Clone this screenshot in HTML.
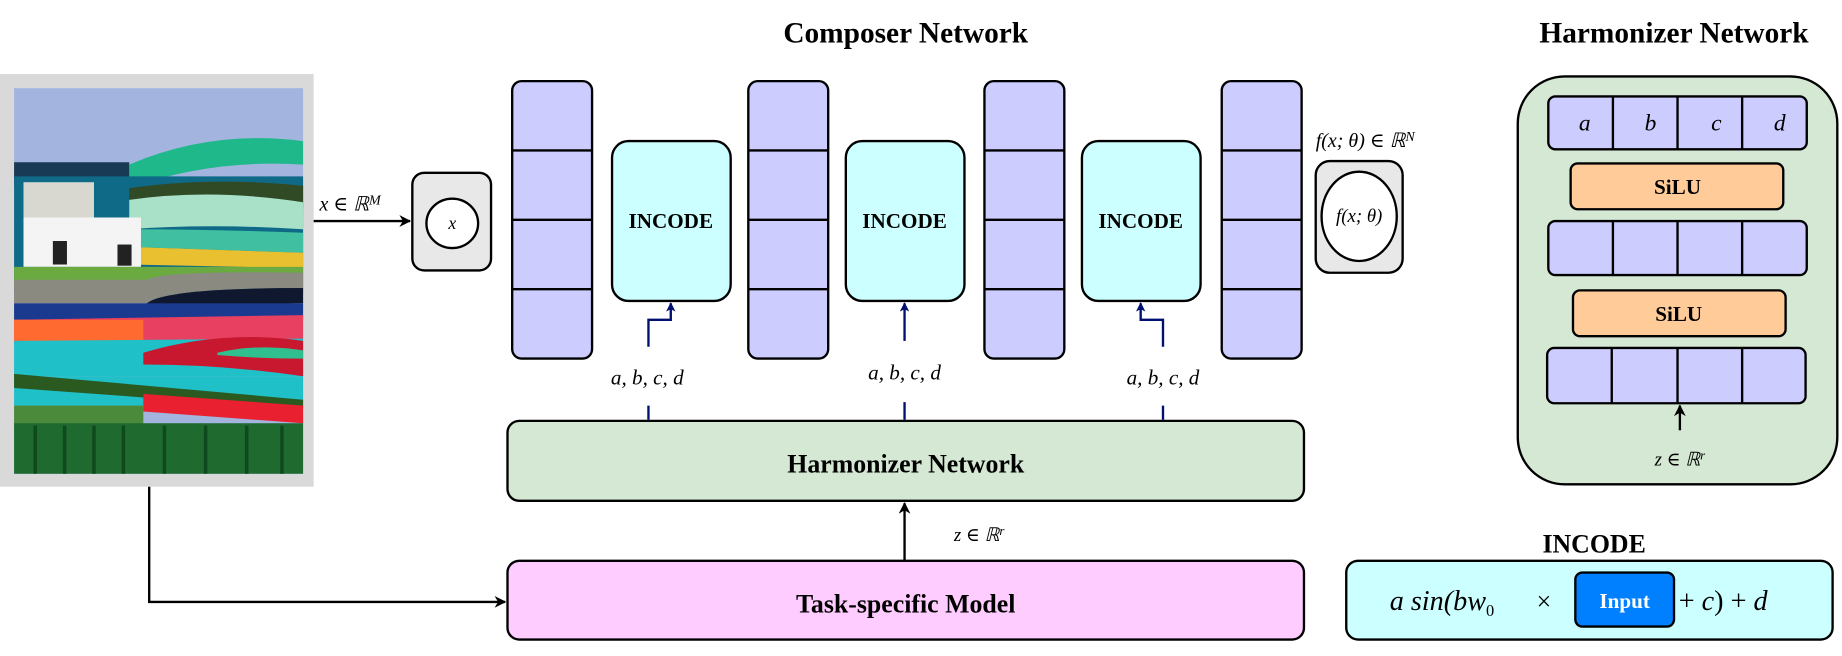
<!DOCTYPE html>
<html><head><meta charset="utf-8"><style>
html,body{margin:0;padding:0;background:#fff;}
svg{display:block;}
text{font-family:"Liberation Serif","DejaVu Serif",serif;}
.b{font-weight:bold;}
.m{font-style:italic;}
</style></head><body>
<svg width="1842" height="656" viewBox="0 0 1568 558" preserveAspectRatio="none" xmlns="http://www.w3.org/2000/svg">
<defs>
<marker id="ah" markerWidth="10" markerHeight="10" refX="9" refY="5" orient="auto" markerUnits="userSpaceOnUse"><path d="M0,0 L10,5 L0,10 L3,5 z" fill="#000"/></marker>
<marker id="bh" markerWidth="8" markerHeight="8" refX="7" refY="4" orient="auto" markerUnits="userSpaceOnUse"><path d="M0,0 L8,4 L0,8 L2,4 z" fill="#001070"/></marker>
</defs>
<text x="771" y="36" text-anchor="middle" class="b" font-size="25">Composer Network</text>
<text x="1425" y="36" text-anchor="middle" class="b" font-size="25">Harmonizer Network</text>

<!-- painting -->
<rect x="0" y="63" width="267" height="351" fill="#d9d9d9"/>
<g>
<rect x="12" y="75" width="246" height="328" fill="#a3b5df"/>
<path d="M110 140 Q180 110 258 120 L258 140 Q180 135 110 160 z" fill="#1fb88a"/>
<rect x="12" y="138" width="98" height="20" fill="#183a55"/>
<path d="M12 150 L258 150 L258 250 L12 250 z" fill="#0f6a88"/>
<path d="M110 160 Q180 150 258 158 L258 178 Q180 175 110 185 z" fill="#2f4a25"/>
<path d="M110 170 Q180 160 258 172 L258 195 Q180 190 110 195 z" fill="#a8e0c8"/>
<path d="M110 195 Q180 195 258 198 L258 215 L110 210 z" fill="#40c0a0"/>
<path d="M110 210 L258 215 L258 228 L110 225 z" fill="#e8c030"/>
<rect x="20" y="155" width="60" height="35" fill="#d8d8d0"/>
<rect x="20" y="185" width="100" height="42" fill="#f4f4f4"/>
<rect x="45" y="205" width="12" height="20" fill="#222"/>
<rect x="100" y="208" width="12" height="18" fill="#222"/>
<rect x="12" y="227" width="246" height="18" fill="#6aaa40"/>
<path d="M12 238 L125 238 Q140 230 258 232 L258 245 Q140 245 125 258 L12 258 z" fill="#8a8a80"/>
<path d="M125 258 Q140 245 258 245 L258 258 L125 260 z" fill="#101830"/>
<rect x="12" y="258" width="246" height="14" fill="#1a3a90"/>
<path d="M12 272 L258 268 L258 290 L12 292 z" fill="#e84060"/>
<rect x="12" y="272" width="110" height="18" fill="#ff6a30"/>
<path d="M12 290 L258 288 L258 320 L12 320 z" fill="#20c0c8"/>
<path d="M122 300 Q190 280 258 290 L258 320 Q190 310 122 310 z" fill="#c81830"/>
<path d="M185 300 Q220 292 258 298 L258 305 Q220 305 185 302 z" fill="#30c090"/>
<path d="M12 320 L258 320 L258 345 L12 345 z" fill="#20c0c8"/>
<path d="M12 318 L258 340 L258 348 L12 330 z" fill="#2a5a20"/>
<path d="M122 335 L258 345 L258 360 L122 350 z" fill="#e82030"/>
<rect x="12" y="345" width="110" height="20" fill="#4a8a3a"/>
<rect x="12" y="360" width="246" height="43" fill="#1f6a2f"/>
<g stroke="#0f4a1f" stroke-width="3"><line x1="30" y1="362" x2="30" y2="403"/><line x1="55" y1="362" x2="55" y2="403"/><line x1="80" y1="362" x2="80" y2="403"/><line x1="105" y1="362" x2="105" y2="403"/><line x1="140" y1="362" x2="140" y2="403"/><line x1="175" y1="362" x2="175" y2="403"/><line x1="210" y1="362" x2="210" y2="403"/><line x1="240" y1="362" x2="240" y2="403"/></g>
</g>

<!-- input arrow -->
<line x1="267" y1="188" x2="349" y2="188" stroke="#000" stroke-width="2" marker-end="url(#ah)"/>
<text x="272" y="179" class="m" font-size="17">x ∈ ℝ<tspan font-size="12" baseline-shift="45%">M</tspan></text>
<rect x="351" y="147" width="67" height="83" rx="10" fill="#e8e8e8" stroke="#000" stroke-width="2"/>
<ellipse cx="385" cy="190" rx="22" ry="21" fill="#fff" stroke="#000" stroke-width="2"/>
<text x="385" y="195" text-anchor="middle" class="m" font-size="15">x</text>

<!-- columns -->
<g stroke="#000" stroke-width="2" fill="#ccccff">
<rect x="436" y="69" width="68" height="236" rx="8"/>
<rect x="637" y="69" width="68" height="236" rx="8"/>
<rect x="838" y="69" width="68" height="236" rx="8"/>
<rect x="1040" y="69" width="68" height="236" rx="8"/>
</g>
<g stroke="#000" stroke-width="2">
<path d="M436 128h68M436 187h68M436 246h68"/>
<path d="M637 128h68M637 187h68M637 246h68"/>
<path d="M838 128h68M838 187h68M838 246h68"/>
<path d="M1040 128h68M1040 187h68M1040 246h68"/>
</g>

<!-- INCODE boxes -->
<g stroke="#000" stroke-width="2" fill="#ccffff">
<rect x="521" y="120" width="101" height="136" rx="14"/>
<rect x="720" y="120" width="101" height="136" rx="14"/>
<rect x="921" y="120" width="101" height="136" rx="14"/>
</g>
<g font-size="18" text-anchor="middle">
<text x="571" y="194" class="b">INCODE</text>
<text x="770" y="194" class="b">INCODE</text>
<text x="971" y="194" class="b">INCODE</text>
</g>

<!-- blue connectors -->
<g stroke="#001070" stroke-width="2" fill="none">
<path d="M552 295 V272 H571 V258" marker-end="url(#bh)"/>
<path d="M770 290 V258" marker-end="url(#bh)"/>
<path d="M990 295 V272 H971 V258" marker-end="url(#bh)"/>
<path d="M552 345 V357 M770 342 V357 M990 345 V357"/>
</g>
<g class="m" font-size="18" text-anchor="middle">
<text x="551" y="327">a, b, c, d</text>
<text x="770" y="323">a, b, c, d</text>
<text x="990" y="327">a, b, c, d</text>
</g>

<!-- harmonizer bar -->
<rect x="432" y="358" width="678" height="68" rx="10" fill="#d5e8d4" stroke="#000" stroke-width="2"/>
<text x="771" y="402" text-anchor="middle" class="b" font-size="22">Harmonizer Network</text>
<line x1="770" y1="477" x2="770" y2="428" stroke="#000" stroke-width="2" marker-end="url(#ah)"/>
<text x="812" y="460" class="m" font-size="16">z ∈ ℝ<tspan font-size="11" baseline-shift="50%">r</tspan></text>

<!-- task model -->
<rect x="432" y="477" width="678" height="67" rx="10" fill="#ffccff" stroke="#000" stroke-width="2"/>
<text x="771" y="521" text-anchor="middle" class="b" font-size="22">Task-specific Model</text>
<path d="M127 414 V512 H430" stroke="#000" stroke-width="2" fill="none" marker-end="url(#ah)"/>

<!-- output -->
<text x="1120" y="125" class="m" font-size="17">f(x; θ) ∈ ℝ<tspan font-size="12" baseline-shift="45%">N</tspan></text>
<rect x="1120" y="137" width="74" height="95" rx="12" fill="#e8e8e8" stroke="#000" stroke-width="2"/>
<ellipse cx="1157" cy="184" rx="32" ry="38" fill="#fff" stroke="#000" stroke-width="2"/>
<text x="1157" y="189" text-anchor="middle" class="m" font-size="16">f(x; θ)</text>

<!-- right harmonizer -->
<rect x="1292" y="65" width="272" height="347" rx="40" fill="#d5e8d4" stroke="#000" stroke-width="2"/>
<g stroke="#000" stroke-width="2" fill="#ccccff">
<rect x="1318" y="82" width="220" height="45" rx="6"/>
<rect x="1318" y="188" width="220" height="46" rx="6"/>
<rect x="1317" y="296" width="220" height="47" rx="6"/>
</g>
<g stroke="#000" stroke-width="2">
<path d="M1373 82v45M1428 82v45M1483 82v45"/>
<path d="M1373 188v46M1428 188v46M1483 188v46"/>
<path d="M1372 296v47M1428 296v47M1483 296v47"/>
</g>
<g class="m" font-size="20" text-anchor="middle">
<text x="1349" y="111">a</text><text x="1405" y="111">b</text><text x="1461" y="111">c</text><text x="1515" y="111">d</text>
</g>
<g stroke="#000" stroke-width="2" fill="#ffcc99">
<rect x="1337" y="139" width="181" height="39" rx="6"/>
<rect x="1339" y="247" width="181" height="39" rx="6"/>
</g>
<text x="1428" y="165" text-anchor="middle" class="b" font-size="18">SiLU</text>
<text x="1429" y="273" text-anchor="middle" class="b" font-size="18">SiLU</text>
<line x1="1430" y1="366" x2="1430" y2="345" stroke="#000" stroke-width="2" marker-end="url(#ah)"/>
<text x="1430" y="396" text-anchor="middle" class="m" font-size="16">z ∈ ℝ<tspan font-size="11" baseline-shift="50%">r</tspan></text>

<!-- INCODE formula -->
<text x="1357" y="470" text-anchor="middle" class="b" font-size="22">INCODE</text>
<rect x="1146" y="477" width="414" height="67" rx="10" fill="#ccffff" stroke="#000" stroke-width="2"/>
<text x="1183" y="519" class="m" font-size="24">a sin(bw<tspan font-size="14" dy="5" font-style="normal">0</tspan></text>
<text x="1308" y="519" font-size="22">×</text>
<rect x="1341" y="487" width="84" height="46" rx="6" fill="#007fff" stroke="#000" stroke-width="2"/>
<text x="1383" y="517" text-anchor="middle" class="b" font-size="18" fill="#fff">Input</text>
<text x="1429" y="519" font-size="24"><tspan>+ </tspan><tspan font-style="italic">c</tspan><tspan>) + </tspan><tspan font-style="italic">d</tspan></text>
</svg>
</body></html>
